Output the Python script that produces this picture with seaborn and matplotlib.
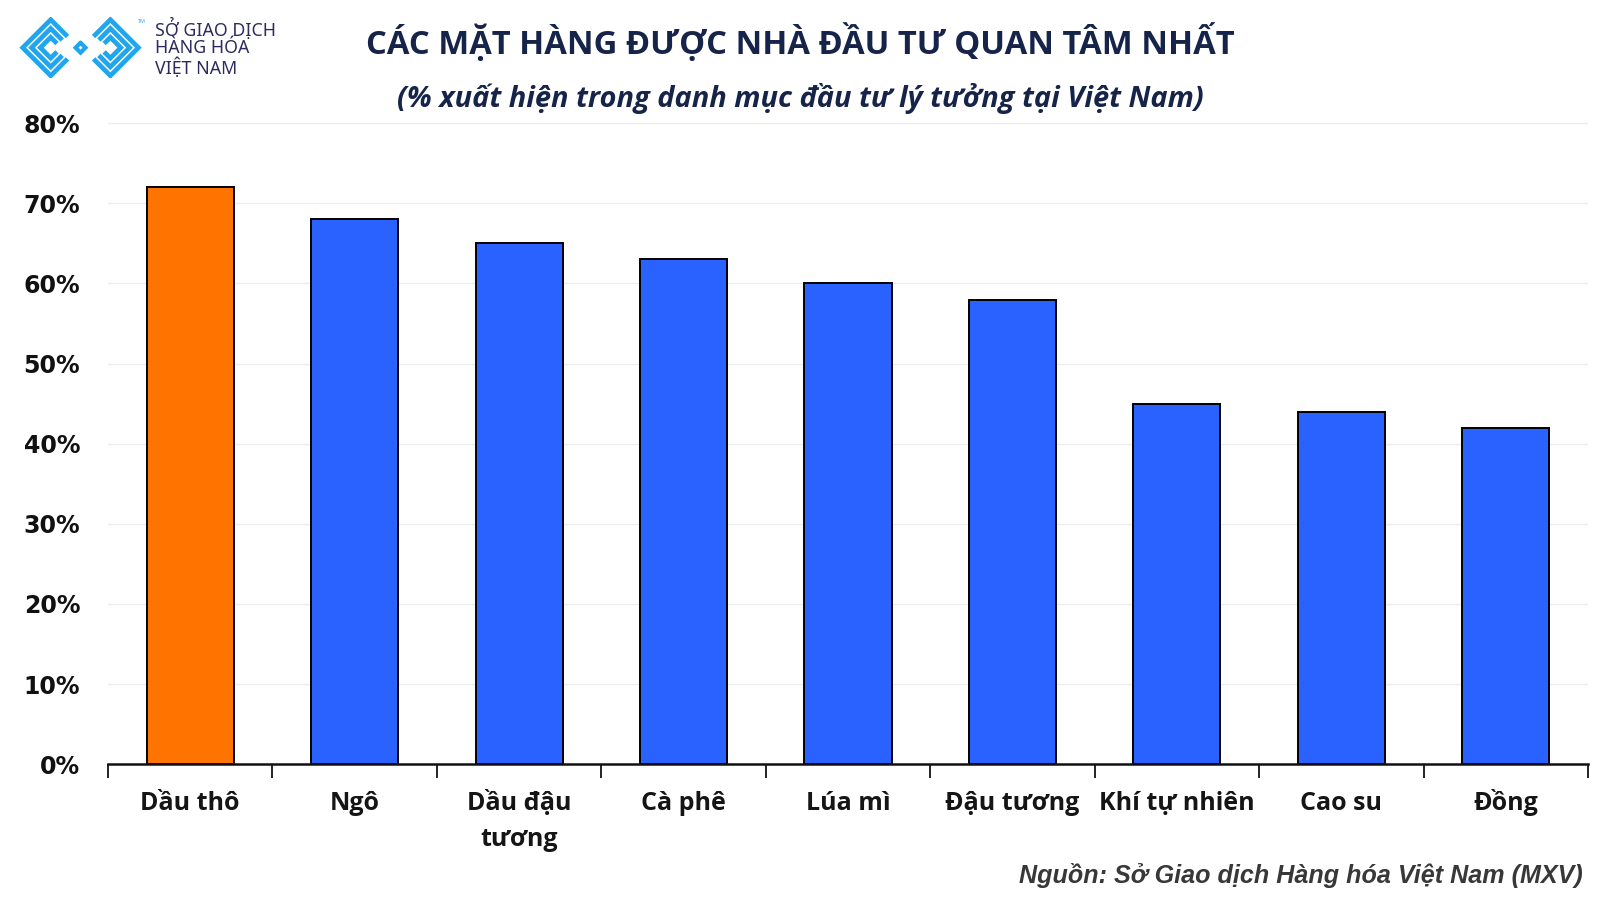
import matplotlib
matplotlib.use("Agg")
import matplotlib.pyplot as plt
import matplotlib.transforms as mtransforms
import seaborn as sns
from matplotlib.ticker import FixedLocator

# data
commodities = ["Dầu thô", "Ngô", "Dầu đậu\ntương", "Cà phê", "Lúa mì",
               "Đậu tương", "Khí tự nhiên", "Cao su", "Đồng"]
share_pct = [72, 68, 65, 63, 60, 58, 45, 44, 42]
y_ticks = [0, 10, 20, 30, 40, 50, 60, 70, 80]

TITLE = "CÁC MẶT HÀNG ĐƯỢC NHÀ ĐẦU TƯ QUAN TÂM NHẤT"
SUBTITLE = "(% xuất hiện trong danh mục đầu tư lý tưởng tại Việt Nam)"
SOURCE = "Nguồn: Sở Giao dịch Hàng hóa Việt Nam (MXV)"
LOGO_LINES = ["SỞ GIAO DỊCH", "HÀNG HÓA", "VIỆT NAM"]

ORANGE = "#FF7400"
BLUE = "#2962FF"
NAVY = "#16244A"
LOGO_BLUE = "#1FA6EE"

sns.set_theme(style="white")
plt.rcParams["font.family"] = ["Open Sans", "DejaVu Sans"]

fig = plt.figure(figsize=(16, 9), dpi=100)
ax = fig.add_axes([0.0675, 0.151, 0.925, 0.712])

palette = [ORANGE if i == 0 else BLUE for i in range(len(commodities))]
sns.barplot(x=commodities, y=share_pct, hue=commodities, palette=palette,
            legend=False, width=0.53, edgecolor="black", linewidth=1.4,
            saturation=1, ax=ax)

ax.set_xlim(-0.5, len(commodities) - 0.5)
ax.set_ylim(0, 80)
ax.set_yticks(y_ticks)
ax.set_yticklabels([f"{t}%" for t in y_ticks], family="DejaVu Sans",
                   fontweight="bold", fontsize=17, color="#111111")
ax.tick_params(axis="y", length=0, pad=20)
ax.yaxis.grid(True, color="#ECECEC", linewidth=1)
ax.set_axisbelow(True)

# category labels: each line placed on its own baseline so accents don't shift them
ax.set_xticks(range(len(commodities)))
ax.set_xticklabels([])
ax.tick_params(axis="x", which="major", length=0)
ax.xaxis.set_minor_locator(FixedLocator([i - 0.5 for i in range(len(commodities) + 1)]))
ax.tick_params(axis="x", which="minor", bottom=True, length=10, width=1.4,
               color="#222222", direction="out")
base = mtransforms.blended_transform_factory(ax.transData, ax.transAxes)
for i, name in enumerate(commodities):
    for k, line in enumerate(name.split("\n")):
        tr = mtransforms.offset_copy(base, fig=fig, y=-46 - k * 36, units="dots")
        ax.text(i, 0, line, transform=tr, ha="center", va="baseline",
                fontsize=18, fontweight="bold", color="#151515")
ax.set_xlabel("")
ax.set_ylabel("")

for side in ["top", "right", "left"]:
    ax.spines[side].set_visible(False)
ax.spines["bottom"].set_color("#111111")
ax.spines["bottom"].set_linewidth(1.8)

fig.text(0.5, 0.953, TITLE, ha="center", va="center", fontsize=23.6,
         fontweight="bold", color=NAVY)
fig.text(0.5, 0.891, SUBTITLE, ha="center", va="center", fontsize=20.9,
         fontweight="bold", fontstyle="italic", color=NAVY)
fig.text(0.989, 0.027, SOURCE, ha="right", va="center", fontsize=18.1,
         family="Liberation Sans", fontweight="bold", fontstyle="italic",
         color="#383838")

# logo: two nested chevron groups with a small diamond in the middle
lax = fig.add_axes([0.011, 0.913, 0.079, 0.068])
lax.set_xlim(-2, 115)
lax.set_ylim(-2, 57)
lax.set_aspect("equal", adjustable="datalim")
lax.axis("off")
cy = 27.5
for cx, sgn in [(27.5, 1), (85, -1)]:
    for r in [27, 18.5, 10]:
        xs = [cx + sgn * r * 0.6, cx, cx - sgn * r, cx, cx + sgn * r * 0.6]
        ys = [cy + r * 0.4, cy + r, cy, cy - r, cy - r * 0.4]
        lax.plot(xs, ys, color=LOGO_BLUE, lw=3.4, solid_joinstyle="miter",
                 solid_capstyle="butt")
lax.plot([56.25, 61, 56.25, 51.5, 56.25], [cy + 4.75, cy, cy - 4.75, cy, cy + 4.75],
         color=LOGO_BLUE, lw=3.0, solid_joinstyle="miter")
fig.text(0.086, 0.976, "TM", fontsize=4, color=LOGO_BLUE, va="center")
for i, line in enumerate(LOGO_LINES):
    fig.text(0.097, 0.968 - i * 0.0216, line, fontsize=12.8, family="Noto Sans",
             color="#2E2B5F", va="center")

fig.savefig("out.png", dpi=100)
